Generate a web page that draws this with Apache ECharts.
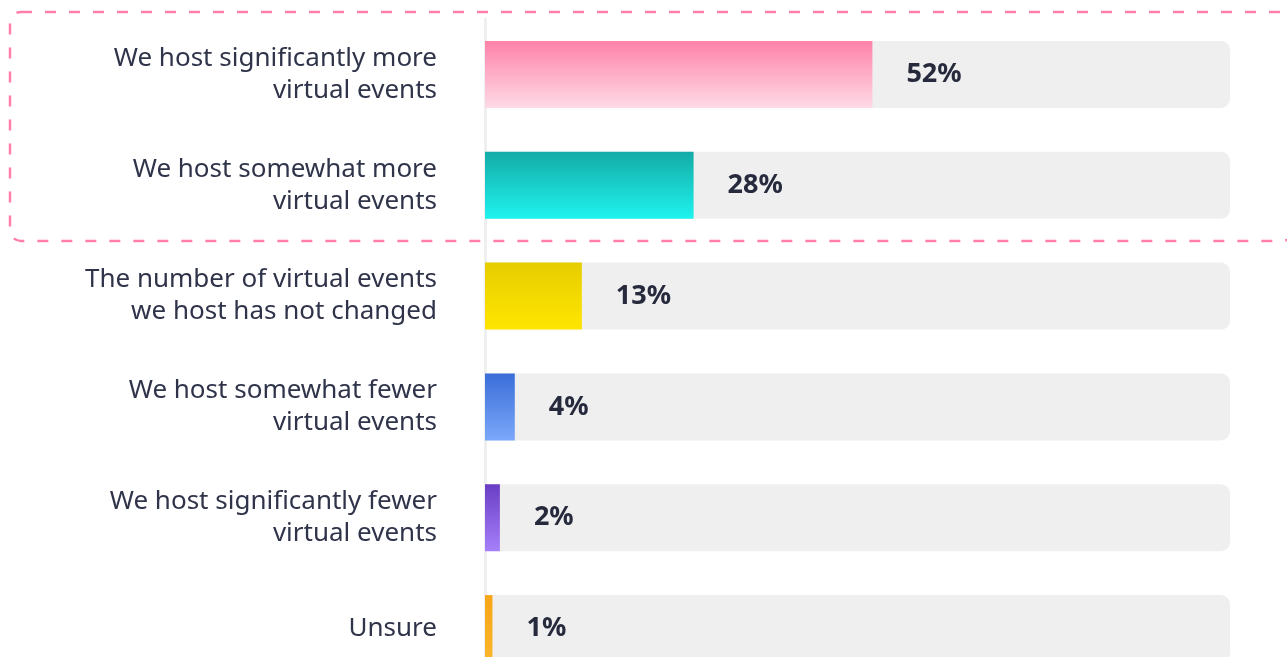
<!DOCTYPE html>
<html>
<head>
<meta charset="utf-8">
<style>
  html, body { margin: 0; padding: 0; background: #ffffff; }
  #chart { width: 1287px; height: 657px; }
</style>
<script src="https://cdn.jsdelivr.net/npm/echarts@6/dist/echarts.min.js"></script>
</head>
<body>
<div id="chart"></div>
<script>
// Survey answers, top to bottom
const categories = [
  'We host significantly more\nvirtual events',
  'We host somewhat more\nvirtual events',
  'The number of virtual events\nwe host has not changed',
  'We host somewhat fewer\nvirtual events',
  'We host significantly fewer\nvirtual events',
  'Unsure'
];
// Share of respondents, percent
const shares = [52, 28, 13, 4, 2, 1];
// Vertical gradient per bar: [top, bottom]
const barGradients = [
  ['#ff82a9', '#ffdae6'],
  ['#14aba6', '#1ff3ef'],
  ['#e6cd00', '#ffe600'],
  ['#3a6dd8', '#7ba8fa'],
  ['#6a3ec4', '#a680fb'],
  ['#f6a516', '#fdb62c']
];

const chart = echarts.init(document.getElementById('chart'), null, { renderer: 'canvas' });

const barData = shares.map((v, i) => ({
  value: v,
  itemStyle: {
    color: new echarts.graphic.LinearGradient(0, 0, 0, 1, [
      { offset: 0, color: barGradients[i][0] },
      { offset: 1, color: barGradients[i][1] }
    ])
  }
}));

chart.setOption({
  animation: false,
  backgroundColor: '#ffffff',
  grid: {
    left: 485, right: 57, top: 19, height: 665,
    containLabel: false,
    outerBoundsMode: 'none'
  },
  xAxis: {
    type: 'value',
    min: 0,
    max: 100,
    show: false
  },
  yAxis: {
    type: 'category',
    data: categories,
    inverse: true,
    axisTick: { show: false },
    axisLine: { show: true, lineStyle: { color: '#efefef', width: 3 } },
    axisLabel: {
      margin: 48,
      align: 'right',
      padding: [4, 0, 0, 0],
      fontFamily: 'Noto Sans',
      fontSize: 26,
      lineHeight: 32,
      color: '#30344a'
    }
  },
  series: [{
    type: 'bar',
    data: barData,
    barWidth: 67,
    showBackground: true,
    backgroundStyle: { color: '#efefef', borderRadius: [0, 9, 9, 0] },
    label: {
      show: true,
      position: 'right',
      distance: 34,
      formatter: '{c}%',
      fontFamily: 'Noto Sans',
      fontWeight: 'bold',
      fontSize: 27,
      color: '#262a3c'
    }
  }],
  graphic: [{
    type: 'rect',
    z: 100,
    silent: true,
    shape: { x: 10, y: 12, width: 1283, height: 229, r: 11 },
    style: {
      fill: 'none',
      stroke: '#ff7fa9',
      lineWidth: 2.5,
      lineDash: [11, 13]
    }
  }]
});
</script>
</body>
</html>
